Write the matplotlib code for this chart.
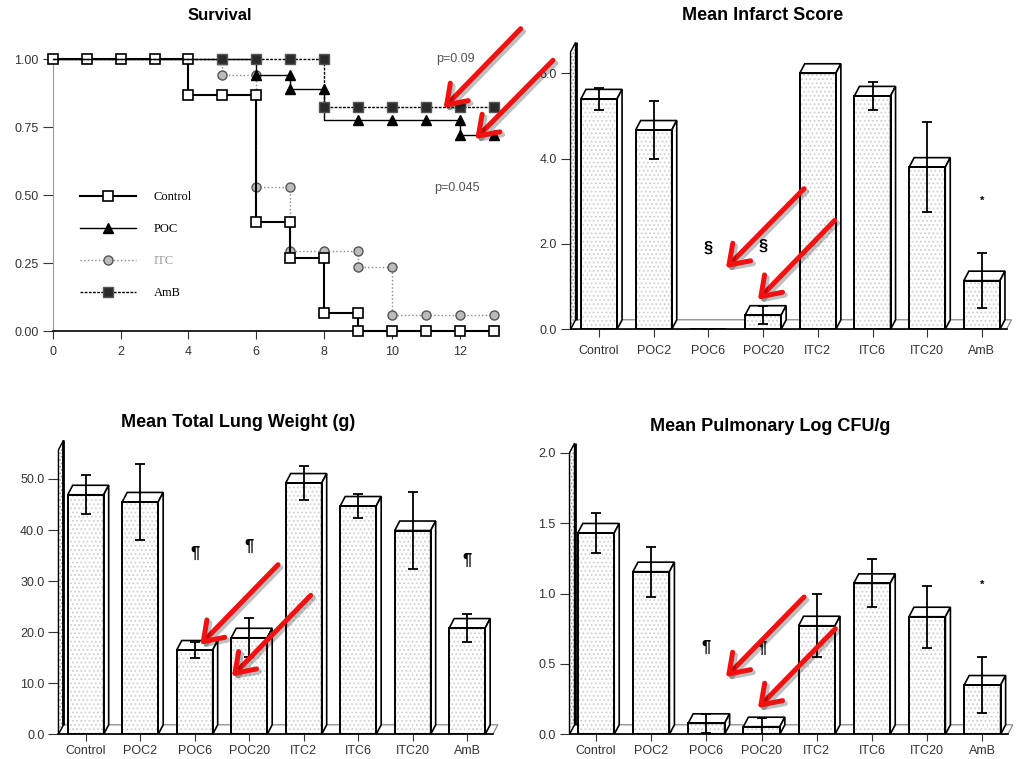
import matplotlib
matplotlib.use('Agg')
import matplotlib.pyplot as plt
import matplotlib.patheffects as pe
from matplotlib.patches import Polygon, FancyArrowPatch
from matplotlib.ticker import FormatStrFormatter
import numpy as np

W, H = 1019, 759

# Survival (Kaplan-Meier steps, days vs. fraction alive)
control_t = [0, 1, 2, 3, 4, 4, 5, 6, 6, 7, 7, 8, 8, 9, 9, 10, 11, 12, 13]
control_s = [1, 1, 1, 1, 1, .867, .867, .867, .40, .40, .267, .267, .067, .067, 0, 0, 0, 0, 0]
poc_t = [0, 5, 6, 6, 7, 7, 8, 8, 9, 10, 11, 12, 12, 13]
poc_s = [1, 1, 1, .944, .944, .889, .889, .778, .778, .778, .778, .778, .722, .722]
itc_t = [0, 5, 5, 6, 6, 7, 7, 8, 9, 9, 10, 10, 11, 12, 13]
itc_s = [1, 1, .941, .941, .529, .529, .294, .294, .294, .235, .235, .059, .059, .059, .059]
amb_t = [0, 5, 6, 7, 8, 8, 9, 10, 11, 12, 13]
amb_s = [1, 1, 1, 1, 1, .824, .824, .824, .824, .824, .824]

groups = ['Control', 'POC2', 'POC6', 'POC20', 'ITC2', 'ITC6', 'ITC20', 'AmB']

infarct_mean = [5.40, 4.67, 0.0, 0.33, 6.00, 5.47, 3.80, 1.14]
infarct_se = [0.25, 0.67, 0.0, 0.21, 0.0, 0.33, 1.05, 0.64]
infarct_mark = ['', '', '§', '§', '', '', '', '*']
infarct_mark_y = [0, 0, 1.9, 1.95, 0, 0, 0, 3.0]

lung_mean = [46.9, 45.5, 16.5, 18.9, 49.2, 44.7, 39.9, 20.8]
lung_se = [3.8, 7.4, 1.5, 3.8, 3.3, 2.4, 7.5, 2.8]
lung_mark = ['', '', '¶', '¶', '', '', '', '¶']
lung_mark_y = [0, 0, 35.4, 36.7, 0, 0, 0, 34.0]

cfu_mean = [1.43, 1.155, 0.078, 0.054, 0.771, 1.072, 0.835, 0.350]
cfu_se = [0.14, 0.177, 0.066, 0.064, 0.225, 0.17, 0.22, 0.20]
cfu_mark = ['', '', '¶', '¶', '', '', '', '*']
cfu_mark_y = [0, 0, 0.62, 0.61, 0, 0, 0, 1.065]

plt.rcParams['font.family'] = ['Liberation Sans', 'DejaVu Sans']
plt.rcParams['hatch.linewidth'] = 0.8

fig = plt.figure(figsize=(W / 100, H / 100), dpi=100)


def px_axes(left, top, right, bottom):
    return fig.add_axes([left / W, 1 - bottom / H, (right - left) / W, (bottom - top) / H])


def style_ticks(ax, xpad=5, xlen=6):
    ax.tick_params(axis='both', direction='out', colors='#333', labelsize=9, width=0.8)
    ax.tick_params(axis='y', length=7, pad=3)
    ax.tick_params(axis='x', length=xlen, pad=xpad)
    for s in ['top', 'right']:
        ax.spines[s].set_visible(False)


# ---------- Survival ----------
ax = px_axes(52.7, 45.7, 504.1, 331)
ax.set_xlim(0, 13.3)
ax.set_ylim(0, 1.05)
ax.plot(itc_t, itc_s, color='#888', ls=':', lw=1.0, marker='o', ms=6.5, mfc='#bbb', mec='#555',
        markevery=list(range(2, len(itc_t))), clip_on=False, label='ITC', zorder=3)
ax.plot(control_t, control_s, color='black', lw=1.5, marker='s', ms=7.5, mfc='white', mec='black',
        mew=1.2, clip_on=False, label='Control', zorder=4)
ax.plot(poc_t, poc_s, color='black', lw=1.0, marker='^', ms=7.5, mfc='black', mec='black',
        markevery=[1, 3, 4, 5, 6, 8, 9, 10, 11, 12, 13], clip_on=False, label='POC', zorder=4)
ax.plot(amb_t, amb_s, color='black', ls=(0, (2, 1)), lw=1.0, marker='s', ms=7, mfc='#2a2a2a', mec='#555',
        markevery=list(range(1, len(amb_t))), clip_on=False, label='AmB', zorder=5)
ax.text(11.87, 1.0, 'p=0.09', ha='center', va='center', fontsize=9, color='#555')
ax.text(11.9, 0.526, 'p=0.045', ha='center', va='center', fontsize=9, color='#555')
ax.set_yticks([0, 0.25, 0.5, 0.75, 1.0])
ax.yaxis.set_major_formatter(FormatStrFormatter('%.2f'))
ax.set_xticks([0, 2, 4, 6, 8, 10, 12])
style_ticks(ax, xpad=5)
ax.spines['left'].set_color('#999')
ax.spines['left'].set_bounds(0, 1)
ax.spines['bottom'].set_bounds(0, 13)
ax.spines['bottom'].set_linewidth(1.2)
hs, ls = ax.get_legend_handles_labels()
order = [ls.index(n) for n in ['Control', 'POC', 'ITC', 'AmB']]
leg = ax.legend([hs[i] for i in order], [ls[i] for i in order], loc='upper left',
                bbox_to_anchor=(80 / W, 1 - 191 / H), bbox_transform=fig.transFigure,
                frameon=False, numpoints=1, handlelength=4.5, handletextpad=1.4,
                labelspacing=1.6, borderpad=0, borderaxespad=0,
                prop={'family': 'Liberation Serif', 'size': 9})
leg.get_texts()[2].set_color('#999')
fig.text(220 / W, 1 - 16 / H, 'Survival', ha='center', va='center', fontsize=12, fontweight='bold')


# ---------- bar panels ----------
def bar_panel(c0, sp, y0, ppu, xlim, ymax, wall_top, floor_end,
              means, ses, marks, mark_y, yticks, xpad=5, xlen=6):
    left = c0 + xlim[0] * sp
    right = c0 + xlim[1] * sp
    top = y0 - ymax * ppu
    ax = px_axes(left, top, right, y0)
    ax.set_xlim(*xlim)
    ax.set_ylim(0, ymax)
    x0 = xlim[0]
    dx = 5 / sp
    dy = 9.5 / ppu
    w = 0.66
    xs = np.arange(len(groups))

    # floor
    ax.add_patch(Polygon([(x0, 0), (floor_end, 0), (floor_end + dx, dy), (x0 + dx, dy)],
                         closed=True, fc='white', ec='#888', lw=0.9, zorder=1, clip_on=False))
    # left wall
    wall = [(x0, 0), (x0, wall_top), (x0 + dx, wall_top + dy), (x0 + dx, dy)]
    ax.add_patch(Polygon(wall, closed=True, fc='white', ec='#999', hatch='.....', lw=0,
                         zorder=2, clip_on=False))
    ax.add_patch(Polygon(wall, closed=True, fill=False, ec='black', lw=1.0, zorder=2, clip_on=False))
    ax.plot([x0 + dx, x0 + dx], [dy, wall_top + dy], color='black', lw=2.0, zorder=2,
            solid_capstyle='butt', clip_on=False)

    # bars: front face with stipple, then 3D top and side
    ax.bar(xs, means, width=w, color='white', edgecolor='#cfcfcf', hatch='....', linewidth=0, zorder=3)
    for i, m in enumerate(means):
        if m <= 0:
            continue
        l, r = i - w / 2, i + w / 2
        ax.add_patch(Polygon([(l, m), (l + dx, m + dy), (r + dx, m + dy), (r, m)], closed=True,
                             fc='white', ec='black', lw=1.2, zorder=3.5))
        ax.add_patch(Polygon([(r, 0), (r, m), (r + dx, m + dy), (r + dx, dy)], closed=True,
                             fc='white', ec='black', lw=1.2, zorder=3.5))
    ax.bar(xs, means, width=w, fill=False, edgecolor='black', linewidth=1.4, zorder=4)
    ax.errorbar(xs, means, yerr=ses, fmt='none', ecolor='black', elinewidth=1.3,
                capsize=3.5, capthick=1.3, zorder=6)
    for i, s in enumerate(marks):
        if s:
            ax.text(i, mark_y[i], s, ha='center', va='center', color='black',
                    fontsize=8 if s == '*' else 12, fontweight='bold')

    ax.set_xticks(xs)
    ax.set_xticklabels(groups)
    ax.set_yticks(yticks)
    ax.yaxis.set_major_formatter(FormatStrFormatter('%.1f'))
    style_ticks(ax, xpad=xpad, xlen=xlen)
    ax.spines['left'].set_visible(False)
    ax.spines['bottom'].set_bounds(x0, floor_end)
    ax.spines['bottom'].set_linewidth(1.2)
    return ax


bar_panel(599, 54.7, 329.3, 42.67, (-0.52, 7.62), 6.8, 6.5, 7.45,
          infarct_mean, infarct_se, infarct_mark, infarct_mark_y, [0, 2, 4, 6])
fig.text(762.7 / W, 1 - 16 / H, 'Mean Infarct Score', ha='center', va='center',
         fontsize=13, fontweight='bold')

bar_panel(85.7, 54.5, 734.3, 5.107, (-0.5, 7.62), 58.5, 55.7, 7.47,
          lung_mean, lung_se, lung_mark, lung_mark_y, [0, 10, 20, 30, 40, 50], xpad=2.5, xlen=5)
fig.text(238 / W, 1 - 422.7 / H, 'Mean Total Lung Weight (g)', ha='center', va='center',
         fontsize=13, fontweight='bold')

bar_panel(596, 55.2, 734.3, 140.8, (-0.48, 7.62), 2.1, 2.0, 7.46,
          cfu_mean, cfu_se, cfu_mark, cfu_mark_y, [0, 0.5, 1.0, 1.5, 2.0], xpad=2.5, xlen=5)
fig.text(770 / W, 1 - 426.7 / H, 'Mean Pulmonary Log CFU/g', ha='center', va='center',
         fontsize=13, fontweight='bold')

# red annotation arrows (tail -> tip, pixels from top-left)
arrows = [((522.7, 26.7), (441.7, 110)), ((555, 58.3), (473.3, 141)),
          ((806, 186.7), (724, 270)), ((836.7, 218.3), (756, 301.7)),
          ((280, 562.7), (198.3, 646.7)), ((312.7, 593.3), (230, 678.3)),
          ((806, 595), (724, 679)), ((837.3, 626.7), (756, 710))]
for tail, tip in arrows:
    a = FancyArrowPatch((tail[0] / W, 1 - tail[1] / H), (tip[0] / W, 1 - tip[1] / H),
                        transform=fig.transFigure, arrowstyle='->,head_length=0.65,head_width=0.45',
                        mutation_scale=20, color='#f21010', lw=3.6, capstyle='round',
                        joinstyle='round', zorder=20,
                        path_effects=[pe.SimpleLineShadow(offset=(2, -2), alpha=0.25), pe.Normal()])
    fig.add_artist(a)

fig.savefig('out.png', dpi=100)
